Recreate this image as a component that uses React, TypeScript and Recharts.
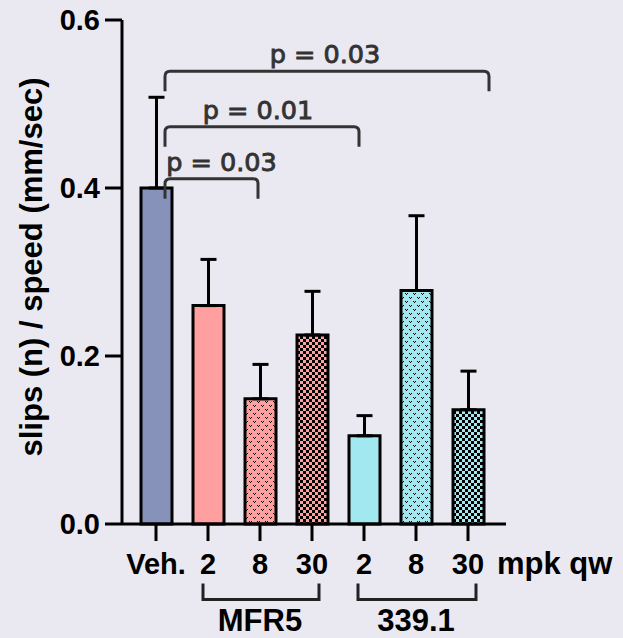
import { Bar, BarChart, Cell, ErrorBar, ReferenceLine, XAxis, YAxis } from "recharts";

// groups on the x axis (unique keys) and what the ticks show
const groups = ["veh", "m2", "m8", "m30", "c2", "c8", "c30"];
const doseLabels = ["Veh.", "2", "8", "30", "2", "8", "30"];

// bar heights and upward SEM
const means = [0.4, 0.26, 0.149, 0.225, 0.105, 0.278, 0.136];
const sems = [0.108, 0.055, 0.041, 0.052, 0.024, 0.089, 0.046];

// significance brackets
const compFrom = ["veh", "veh", "veh"];
const compTo = ["m8", "c2", "c30"];
const compY = [0.411, 0.473, 0.539];
const compP = ["p = 0.03", "p = 0.01", "p = 0.03"];

// drug grouping under the axis
const drugNames = ["MFR5", "339.1"];
const drugFrom = ["m2", "c2"];
const drugTo = ["m30", "c30"];
const drugY = -0.09;

const yTicks = [0, 0.2, 0.4, 0.6];

const BG = "#EAE9F2";
const VEH = "#8792BA";
const PINK = "#FF9F9F";
const CYAN = "#A2E8F0";
const fills = [VEH, PINK, "url(#pinkDots)", "url(#pinkCheck)", CYAN, "url(#cyanDots)", "url(#cyanCheck)"];

// [left nudge, right nudge, label nudge] in px
const SIG_NUDGE = [
  [9, -2, 10],
  [9, -5, -4],
  [9, 21, -2],
];
const DRUG_NUDGE = [
  [-5, 7],
  [-6, 8],
];

const data = groups.map((g, i) => ({ group: g, mean: means[i], err: [0, sems[i]] }));

const boldFont = "Liberation Sans, Arial, sans-serif";

function sigShape(i: number) {
  return (props: any) => {
    const { x1, x2, y1 } = props;
    const l = x1 + SIG_NUDGE[i][0];
    const r = x2 + SIG_NUDGE[i][1];
    const y = y1;
    const leg = 20;
    const rad = 5;
    const d = `M${l},${y + leg} L${l},${y + rad} Q${l},${y} ${l + rad},${y} L${r - rad},${y} Q${r},${y} ${r},${y + rad} L${r},${y + leg}`;
    return (
      <g>
        <path d={d} fill="none" stroke="#333" strokeWidth={3} />
        <text
          x={(l + r) / 2 + SIG_NUDGE[i][2]}
          y={y - 8}
          textAnchor="middle"
          fontFamily="DejaVu Sans, sans-serif"
          fontSize={25.5}
          fill="#333"
          stroke="#333"
          strokeWidth={0.9}
        >
          {compP[i]}
        </text>
      </g>
    );
  };
}

function drugShape(i: number) {
  return (props: any) => {
    const { x1, x2, y1 } = props;
    const l = x1 + DRUG_NUDGE[i][0];
    const r = x2 + DRUG_NUDGE[i][1];
    const y = y1;
    const leg = 16;
    const d = `M${l},${y - leg} L${l},${y} L${r},${y} L${r},${y - leg}`;
    return (
      <g>
        <path d={d} fill="none" stroke="#222" strokeWidth={3} />
        <text x={(x1 + x2) / 2} y={y + 31} textAnchor="middle" fontFamily={boldFont} fontWeight={700} fontSize={31} fill="#000">
          {drugNames[i]}
        </text>
      </g>
    );
  };
}

export default function App() {
  return (
    <div style={{ width: 623, height: 638, background: BG }}>
      <style>{`body{margin:0;background:${BG}}`}</style>
      <BarChart width={623} height={638} data={data} margin={{ top: 20, right: 117, left: 0, bottom: 0 }}>
        <defs>
          <pattern id="pinkDots" width={8} height={8} patternUnits="userSpaceOnUse">
            <rect width={8} height={8} fill={PINK} />
            <rect x={1} y={1} width={1} height={1} fill="#000" />
            <rect x={3} y={1} width={1} height={1} fill="#000" />
            <rect x={2} y={2} width={1} height={1} fill="#000" />
            <rect x={5} y={5} width={1} height={1} fill="#000" />
            <rect x={7} y={5} width={1} height={1} fill="#000" />
            <rect x={6} y={6} width={1} height={1} fill="#000" />
          </pattern>
          <pattern id="cyanDots" width={8} height={8} patternUnits="userSpaceOnUse">
            <rect width={8} height={8} fill={CYAN} />
            <rect x={1} y={1} width={1} height={1} fill="#000" />
            <rect x={3} y={1} width={1} height={1} fill="#000" />
            <rect x={2} y={2} width={1} height={1} fill="#000" />
            <rect x={5} y={5} width={1} height={1} fill="#000" />
            <rect x={7} y={5} width={1} height={1} fill="#000" />
            <rect x={6} y={6} width={1} height={1} fill="#000" />
          </pattern>
          <pattern id="pinkCheck" width={6} height={6} patternUnits="userSpaceOnUse">
            <rect width={6} height={6} fill={PINK} />
            <rect x={0} y={0} width={3} height={3} fill="#000" />
            <rect x={3} y={3} width={3} height={3} fill="#000" />
          </pattern>
          <pattern id="cyanCheck" width={6} height={6} patternUnits="userSpaceOnUse">
            <rect width={6} height={6} fill={CYAN} />
            <rect x={0} y={0} width={3} height={3} fill="#000" />
            <rect x={3} y={3} width={3} height={3} fill="#000" />
          </pattern>
        </defs>
        <XAxis
          dataKey="group"
          height={114}
          padding={{ left: 8, right: 12 }}
          tickFormatter={(v: string) => doseLabels[groups.indexOf(v)]}
          axisLine={{ stroke: "#000", strokeWidth: 3 }}
          tickLine={{ stroke: "#000", strokeWidth: 3 }}
          tickSize={17}
          tickMargin={12}
          interval={0}
          tick={{ fill: "#000", fontSize: 29, fontWeight: 700, fontFamily: boldFont }}
          label={(p: any) => (
            <text x={497} y={574} textAnchor="start" fontFamily={boldFont} fontWeight={700} fontSize={31} fill="#000">
              mpk qw
            </text>
          )}
        />
        <YAxis
          width={122}
          domain={[0, 0.6]}
          ticks={yTicks}
          tickFormatter={(v: number) => v.toFixed(1)}
          axisLine={{ stroke: "#000", strokeWidth: 3 }}
          tickLine={{ stroke: "#000", strokeWidth: 3 }}
          tickSize={17}
          tickMargin={5}
          tick={{ fill: "#000", fontSize: 29, fontWeight: 700, fontFamily: boldFont }}
          label={(p: any) => (
            <text
              transform="translate(42,267) rotate(-90)"
              textAnchor="middle"
              fontFamily={boldFont}
              fontWeight={700}
              fontSize={31}
              fill="#000"
            >
              slips (n) / speed (mm/sec)
            </text>
          )}
        />
        <Bar dataKey="mean" barSize={31} stroke="#000" strokeWidth={3} isAnimationActive={false}>
          {data.map((d, i) => (
            <Cell key={d.group} fill={fills[i]} />
          ))}
          <ErrorBar dataKey="err" direction="y" width={8} stroke="#000" strokeWidth={3} isAnimationActive={false} />
        </Bar>
        {compFrom.map((f, i) => (
          <ReferenceLine
            key={"sig" + i}
            segment={[
              { x: f, y: compY[i] },
              { x: compTo[i], y: compY[i] },
            ]}
            ifOverflow="visible"
            shape={sigShape(i)}
          />
        ))}
        {drugNames.map((n, i) => (
          <ReferenceLine
            key={"drug" + i}
            segment={[
              { x: drugFrom[i], y: drugY },
              { x: drugTo[i], y: drugY },
            ]}
            ifOverflow="visible"
            shape={drugShape(i)}
          />
        ))}
      </BarChart>
    </div>
  );
}
